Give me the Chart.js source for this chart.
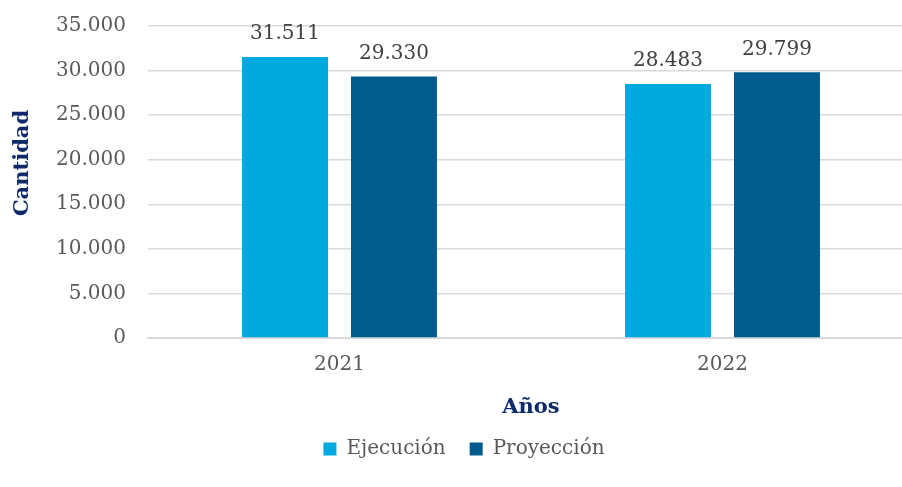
<!DOCTYPE html>
<html>
<head>
<meta charset="utf-8">
<script src="https://cdn.jsdelivr.net/npm/chart.js@4.4.0/dist/chart.umd.min.js"></script>
<style>
  html, body { margin: 0; padding: 0; background: #fff; overflow: hidden; }
  #wrap { width: 930px; height: 487px; position: relative; }
</style>
</head>
<body>
<div id="wrap"><canvas id="barChart"></canvas></div>
<script>
const years = ['2021', '2022'];
const ejecucion = [31511, 28483];
const proyeccion = [29330, 29799];
const yTicks = [0, 5000, 10000, 15000, 20000, 25000, 30000, 35000];

const serif = 'DejaVu Serif';
const navy = '#0e2a6a';
const grey = '#595959';

// miles con punto: 5.000, 31.511
function fmt(v) {
    return String(v).replace(/\B(?=(\d{3})+(?!\d))/g, '.');
}

// etiquetas encima de cada barra
const valueLabels = {
    id: 'valueLabels',
    afterDatasetsDraw(chart) {
        const ctx = chart.ctx;
        ctx.save();
        ctx.font = '20px "' + serif + '"';
        ctx.fillStyle = '#404040';
        ctx.textAlign = 'center';
        ctx.textBaseline = 'middle';
        chart.data.datasets.forEach((ds, i) => {
            chart.getDatasetMeta(i).data.forEach((bar, j) => {
                ctx.fillText(fmt(ds.data[j]), bar.x, bar.y - 23);
            });
        });
        ctx.restore();
    }
};

// título del eje Y, algo por encima del centro como en el original
const yTitle = {
    id: 'yTitle',
    afterDraw(chart) {
        const ctx = chart.ctx;
        ctx.save();
        ctx.translate(23, 163);
        ctx.rotate(-Math.PI / 2);
        ctx.font = 'bold 21px "' + serif + '"';
        ctx.fillStyle = navy;
        ctx.textAlign = 'center';
        ctx.textBaseline = 'middle';
        ctx.fillText('Cantidad', 0, 0);
        ctx.restore();
    }
};

const ctx = document.getElementById('barChart').getContext('2d');

new Chart(ctx, {
    type: 'bar',
    data: {
        labels: years,
        datasets: [{
            label: 'Ejecución',
            data: ejecucion,
            backgroundColor: '#00a9e0',
            categoryPercentage: 0.569,
            barPercentage: 0.789
        }, {
            label: 'Proyección',
            data: proyeccion,
            backgroundColor: '#005b8f',
            categoryPercentage: 0.569,
            barPercentage: 0.789
        }]
    },
    options: {
        responsive: true,
        maintainAspectRatio: false,
        animation: false,
        layout: {
            padding: { left: 14, right: 16, top: 26, bottom: 18 }
        },
        scales: {
            x: {
                grid: { display: false, drawTicks: false },
                border: { display: true, color: '#d9d9d9', width: 2 },
                ticks: {
                    color: grey,
                    padding: 15,
                    font: { family: serif, size: 20 }
                },
                title: {
                    display: true,
                    text: 'Años',
                    color: navy,
                    padding: { top: 0, bottom: -5 },
                    font: { family: serif, size: 21, weight: 'bold' }
                },
                afterFit(scale) { scale.height = 77; }
            },
            y: {
                min: 0,
                max: 35000,
                afterBuildTicks(scale) {
                    scale.ticks = yTicks.map(v => ({ value: v }));
                },
                grid: { color: '#d9d9d9', lineWidth: 1.5, drawTicks: false },
                border: { display: false },
                ticks: {
                    color: grey,
                    padding: 22,
                    font: { family: serif, size: 20 },
                    callback: v => fmt(v)
                },
                afterFit(scale) {
                    scale.width = 134;
                    scale.paddingTop = 0;
                    scale.paddingBottom = 0;
                }
            }
        },
        plugins: {
            legend: {
                position: 'bottom',
                labels: {
                    color: grey,
                    boxWidth: 13,
                    boxHeight: 13,
                    padding: 24,
                    font: { family: serif, size: 20 }
                }
            },
            tooltip: { enabled: false }
        }
    },
    plugins: [valueLabels, yTitle]
});
</script>
</body>
</html>
